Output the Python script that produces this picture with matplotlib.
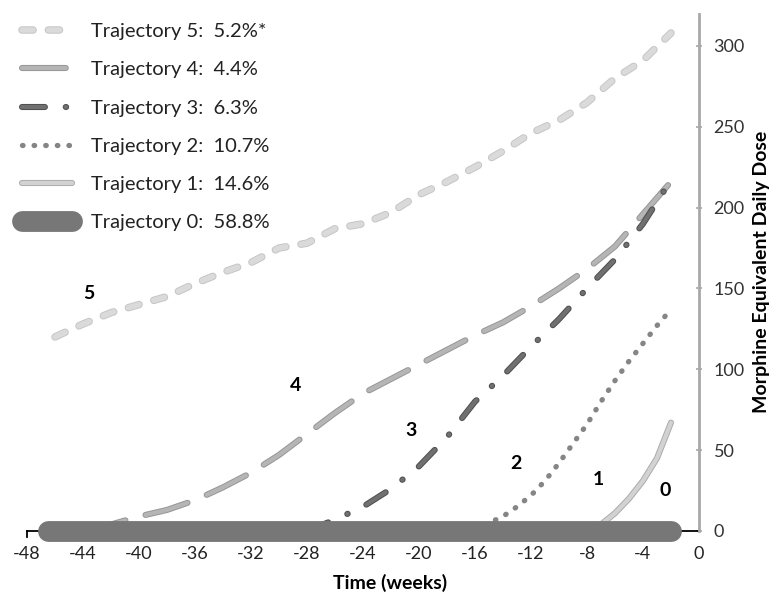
import numpy as np
import matplotlib
matplotlib.use("Agg")
from matplotlib import pyplot as plt
import matplotlib.patheffects as pe

plt.rcParams['font.family'] = ['Lato', 'DejaVu Sans']

# weeks / values
w5 = [-46, -44, -42, -40, -38, -36, -34, -32, -30, -28, -26, -24, -22, -20, -18, -16, -14, -12, -10, -8, -6, -4, -2]
v5 = [120, 128, 135, 140, 145, 153, 160, 166, 175, 178, 187, 190, 197, 208, 216, 225, 235, 246, 254, 265, 280, 291, 308]

w4 = [-44, -42, -40, -38, -36, -34, -32, -30, -28, -26, -24, -22, -20, -18, -16, -14, -12, -10, -8, -6, -4, -2]
v4 = [0, 4, 9, 13, 19, 27, 36, 47, 60, 73, 85, 94, 103, 112, 121, 129, 139, 150, 162, 176, 196, 216]

w3 = [-28, -26, -24, -22, -20, -18, -16, -14, -12, -10, -8, -6, -4, -2]
v3 = [0, 7, 15, 26, 40, 58, 80, 96, 114, 131, 150, 168, 190, 217]

w2 = [-16, -15, -14, -13, -12, -11, -10, -9, -8, -7, -6, -5, -4, -3, -2]
v2 = [0, 5, 9, 15, 22, 31, 42, 54, 66, 80, 93, 105, 116, 127, 137]

w1 = [-8, -7, -6, -5, -4, -3, -2]
v1 = [0, 4, 11, 20, 31, 45, 67]

w0 = [-46.5, -2]
v0 = [0, 0]

labels = ["Trajectory 5:  5.2%*", "Trajectory 4:  4.4%", "Trajectory 3:  6.3%",
          "Trajectory 2:  10.7%", "Trajectory 1:  14.6%", "Trajectory 0:  58.8%"]
tag_pos = {"5": (-43.6, 147), "4": (-28.8, 90), "3": (-20.6, 62),
           "2": (-13.1, 42), "1": (-7.2, 32), "0": (-2.4, 25)}

fig = plt.figure(figsize=(7.71, 5.93), dpi=100)
ax = fig.add_axes([0.035, 0.1046, 0.8716, 0.8725])

def outline(lw, col):
    return [pe.Stroke(linewidth=lw + 1.4, foreground=col), pe.Normal()]

l5, = ax.plot(w5, v5, color='#dadada', lw=4, dashes=(2, 2.75), solid_capstyle='round',
              dash_capstyle='round', path_effects=outline(4, '#c6c6c6'), zorder=3)
l4, = ax.plot(w4, v4, color='#b5b5b5', lw=3, dashes=(10.5, 5), dash_capstyle='round',
              path_effects=outline(3, '#969696'), zorder=3)
l3, = ax.plot(w3, v3, color='#707070', lw=3, dashes=(5.5, 5, 0.1, 5), dash_capstyle='round',
              path_effects=outline(3, '#4e4e4e'), zorder=4)
l2, = ax.plot(w2, v2, color='#858585', lw=3.8, dashes=(0.1, 2.1), dash_capstyle='round', zorder=3)
l1, = ax.plot(w1, v1, color='#d2d2d2', lw=3, solid_capstyle='round',
              path_effects=outline(3, '#ababab'), zorder=3)
l0, = ax.plot(w0, v0, color='#777777', lw=15, solid_capstyle='round', zorder=5, clip_on=False)

# x axis line drawn like the original
ax.plot([-48, 0], [0, 0], color='black', lw=1.3, zorder=2, clip_on=False)
ax.plot([-48, -48], [0, -4], color='black', lw=1.3, zorder=2, clip_on=False)

for k, (x, y) in tag_pos.items():
    ax.text(x, y, k, fontsize=14, fontweight='bold', ha='center', va='center')

ax.set_xlim(-48, 0)
ax.set_ylim(0, 320)
for s in ['top', 'left', 'bottom']:
    ax.spines[s].set_visible(False)
ax.spines['right'].set_color('#a8a8a8')
ax.spines['right'].set_linewidth(2)
ax.yaxis.tick_right()
ax.set_yticks(range(0, 301, 50))
ax.tick_params(axis='y', colors='#a8a8a8', labelcolor='#333333', labelsize=13, length=5, width=1.2,
               direction='inout', pad=8)
ax.set_xticks(range(-48, 1, 4))
ax.set_xticklabels([str(t) for t in range(-48, 1, 4)])
ax.tick_params(axis='x', length=0, labelsize=13, labelcolor='#222222', pad=11)
ax.set_xlabel("Time (weeks)", fontsize=14, fontweight='bold')
ax.xaxis.set_label_coords(0.54, -0.083)
ax.yaxis.set_label_position('right')
ax.set_ylabel("Morphine Equivalent Daily Dose", fontsize=14, fontweight='bold', labelpad=6)

leg = fig.legend([l5, l4, l3, l2, l1, l0], labels, loc='upper left',
                 bbox_to_anchor=(22 / 771, 1 - 23 / 593), bbox_transform=fig.transFigure,
                 borderpad=0, borderaxespad=0, frameon=False, fontsize=14.5,
                 handlelength=2.5, handletextpad=0.95, labelspacing=1.05)
for t in leg.get_texts():
    t.set_color('#222222')

fig.savefig("out.png", dpi=100)
